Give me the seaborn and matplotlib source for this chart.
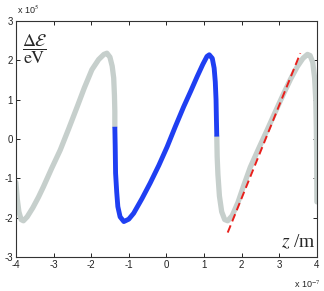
import numpy as np
import pandas as pd
import matplotlib
matplotlib.use("Agg")
import matplotlib.pyplot as plt
import seaborn as sns

# z in units of 1e-7 m, dE in units of 1e5 eV
gray_left_z = [-4.00, -3.96, -3.92, -3.86, -3.80, -3.70, -3.55, -3.40, -3.27, -3.05,
               -2.82, -2.60, -2.37, -2.18, -1.98, -1.80, -1.66, -1.58, -1.50, -1.44,
               -1.40, -1.38, -1.37, -1.37]
gray_left_e = [-1.10, -1.55, -1.85, -2.05, -2.08, -1.98, -1.75, -1.48, -1.22, -0.75,
               -0.28, 0.25, 0.82, 1.30, 1.76, 2.02, 2.15, 2.18, 2.08, 1.85,
               1.55, 1.10, 0.70, 0.31]

blue_z = [-1.37, -1.36, -1.35, -1.32, -1.29, -1.23, -1.13, -1.00, -0.87, -0.65,
          -0.43, -0.20, 0.02, 0.24, 0.46, 0.65, 0.82, 0.97, 1.08, 1.14,
          1.22, 1.27, 1.30, 1.32, 1.33, 1.34]
blue_e = [0.31, -0.20, -0.87, -1.35, -1.72, -1.98, -2.10, -2.04, -1.89, -1.52,
          -1.12, -0.67, -0.20, 0.32, 0.82, 1.22, 1.59, 1.90, 2.10, 2.14,
          2.05, 1.80, 1.45, 1.00, 0.50, 0.06]

gray_right_z = [1.34, 1.35, 1.37, 1.41, 1.47, 1.55, 1.63, 1.75, 1.90, 2.05,
                2.23, 2.45, 2.68, 2.90, 3.12, 3.30, 3.48, 3.63, 3.75, 3.82,
                3.89, 3.94, 3.97, 3.985, 3.995, 4.00]
gray_right_e = [0.06, -0.45, -0.90, -1.45, -1.85, -2.05, -2.08, -1.95, -1.62, -1.20,
                -0.72, -0.25, 0.23, 0.70, 1.16, 1.52, 1.84, 2.05, 2.15, 2.12,
                1.95, 1.55, 1.00, 0.30, -0.50, -1.60]

fit_z = [1.63, 3.56]
fit_e = [-2.38, 2.18]

x_ticks = [-4, -3, -2, -1, 0, 1, 2, 3, 4]
y_ticks = [-3, -2, -1, 0, 1, 2, 3]

sns.set_style("ticks")
plt.rcParams["font.family"] = ["Liberation Sans", "DejaVu Sans"]
plt.rcParams["mathtext.fontset"] = "stix"

fig = plt.figure(figsize=(3.24, 2.91), dpi=100)
ax = fig.add_axes([0.049, 0.117, 0.929, 0.811])

gray = "#c6cfcc"
blue = "#1f3ff2"

sns.lineplot(x=gray_left_z, y=gray_left_e, sort=False, estimator=None, ax=ax,
             color=gray, lw=3.8, solid_capstyle="round")
sns.lineplot(x=gray_right_z, y=gray_right_e, sort=False, estimator=None, ax=ax,
             color=gray, lw=3.8, solid_capstyle="round")
sns.lineplot(x=blue_z, y=blue_e, sort=False, estimator=None, ax=ax,
             color=blue, lw=3.5, solid_capstyle="butt")
sns.lineplot(x=fit_z, y=fit_e, sort=False, estimator=None, ax=ax,
             color="#e8201c", lw=1.4, dashes=False, linestyle=(0, (4, 2.2)))

ax.set_xlim(-4, 4)
ax.set_ylim(-3, 3)
ax.set_xticks(x_ticks)
ax.set_yticks(y_ticks)
ax.set_xticklabels([str(v) for v in x_ticks])
ax.set_yticklabels([str(v) for v in y_ticks])
ax.tick_params(direction="in", top=True, right=True, length=3, width=0.7,
               labelsize=7, pad=2, colors="#222222")
for s in ax.spines.values():
    s.set_visible(True)
    s.set_linewidth(0.8)
    s.set_color("#333333")
ax.set_xlabel("")
ax.set_ylabel("")

ax.text(0.022, 0.95, r"$\dfrac{\Delta\mathcal{E}}{\mathrm{eV}}$", transform=ax.transAxes,
        fontsize=13, ha="left", va="top")
ax.text(0.995, 0.025, r"$z$ /m", transform=ax.transAxes, fontsize=14,
        ha="right", va="bottom", family="Liberation Serif")

fig.text(0.052, 0.945, r"x 10$^{5}$", fontsize=6.5, ha="left", va="bottom")
fig.text(0.99, 0.005, r"x 10$^{-7}$", fontsize=6.5, ha="right", va="bottom")

fig.savefig("out.png", dpi=100)
